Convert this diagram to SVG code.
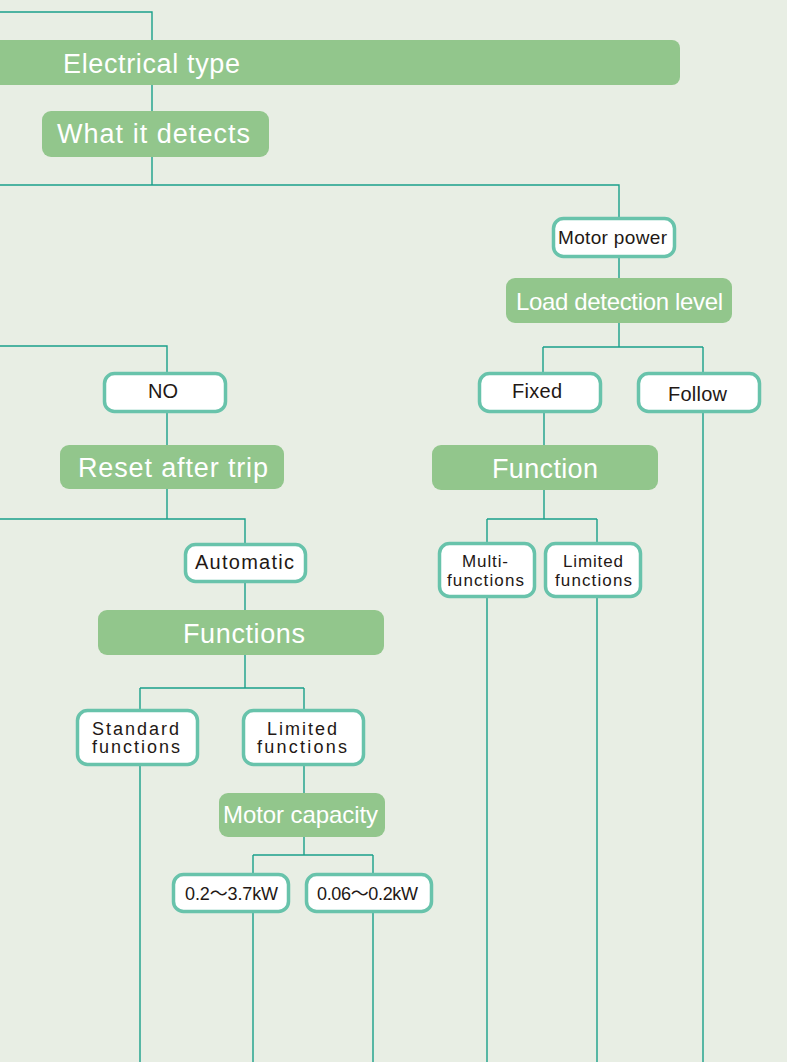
<svg xmlns="http://www.w3.org/2000/svg" width="787" height="1062" viewBox="0 0 787 1062">
<style>
.bg{fill:#e8eee4}
.g{fill:#92c68c}
.w{fill:#fff;stroke:#68c3ab;stroke-width:3.5}
.gt{fill:#fff;font-family:"Liberation Sans","Noto Sans CJK JP",sans-serif}
.dt{fill:#231815;font-family:"Liberation Sans","Noto Sans CJK JP",sans-serif}
.c{fill:none;stroke:#1aa08a;stroke-width:1.4}
</style>
<rect class="bg" x="0" y="0" width="787" height="1062"/>
<g id="connectors">
<path class="c" d="M0 12H152V185"/>
<path class="c" d="M0 185H619V218"/>
<path class="c" d="M619 257V278"/>
<path class="c" d="M619 323V347M543 347H703M543 347V372M703 347V1062"/>
<path class="c" d="M544 412V445"/>
<path class="c" d="M544 490V519M487 519H597M487 519V1062M597 519V1062"/>
<path class="c" d="M0 346H167V372"/>
<path class="c" d="M167 412V445"/>
<path class="c" d="M167 489V519M0 519H245V543"/>
<path class="c" d="M245 582V610"/>
<path class="c" d="M245 655V688M140 688H304M140 688V1062M304 688V793"/>
<path class="c" d="M304 837V855M253 855H373M253 855V1062M373 855V1062"/>
</g>
<g id="electrical-type">
<path class="g" d="M0 40H672A8 8 0 0 1 680 48V77A8 8 0 0 1 672 85H0Z"/>
<text class="gt" x="63" y="73" font-size="27" textLength="177">Electrical type</text>
</g>
<g id="what-it-detects">
<rect class="g" x="42" y="111" width="227" height="46" rx="9"/>
<text class="gt" x="57" y="143" font-size="27" textLength="193">What it detects</text>
</g>
<g id="motor-power">
<rect class="w" x="553.5" y="218.5" width="121" height="38" rx="10"/>
<text class="dt" x="558" y="244" font-size="19" textLength="109">Motor power</text>
</g>
<g id="load-detection-level">
<rect class="g" x="506" y="278" width="226" height="45" rx="9"/>
<text class="gt" x="516" y="310" font-size="24" textLength="207">Load detection level</text>
</g>
<g id="fixed">
<rect class="w" x="479.5" y="373.5" width="121" height="38" rx="10"/>
<text class="dt" x="512" y="398" font-size="20" textLength="50">Fixed</text>
</g>
<g id="follow">
<rect class="w" x="638.5" y="373.5" width="121" height="38" rx="10"/>
<text class="dt" x="668" y="401" font-size="20" textLength="59">Follow</text>
</g>
<g id="function">
<rect class="g" x="432" y="445" width="226" height="45" rx="9"/>
<text class="gt" x="492" y="478" font-size="27" textLength="106">Function</text>
</g>
<g id="multi-functions">
<rect class="w" x="439.5" y="543.5" width="95" height="53" rx="10"/>
<text class="dt" x="462" y="567" font-size="17" textLength="46">Multi-</text>
<text class="dt" x="447" y="586" font-size="17" textLength="77">functions</text>
</g>
<g id="limited-functions-1">
<rect class="w" x="545.5" y="543.5" width="95" height="53" rx="10"/>
<text class="dt" x="563" y="567" font-size="17" textLength="60">Limited</text>
<text class="dt" x="555" y="586" font-size="17" textLength="77">functions</text>
</g>
<g id="no">
<rect class="w" x="104.5" y="373.5" width="121" height="38" rx="10"/>
<text class="dt" x="148" y="398" font-size="20" textLength="30">NO</text>
</g>
<g id="reset-after-trip">
<rect class="g" x="60" y="445" width="224" height="44" rx="9"/>
<text class="gt" x="78" y="477" font-size="27" textLength="190">Reset after trip</text>
</g>
<g id="automatic">
<rect class="w" x="185.5" y="544.5" width="120" height="37" rx="10"/>
<text class="dt" x="195" y="569" font-size="20" textLength="99">Automatic</text>
</g>
<g id="functions">
<rect class="g" x="98" y="610" width="286" height="45" rx="9"/>
<text class="gt" x="183" y="643" font-size="27" textLength="122">Functions</text>
</g>
<g id="standard-functions">
<rect class="w" x="77.5" y="710.5" width="120" height="54" rx="10"/>
<text class="dt" x="92" y="735" font-size="18" textLength="87">Standard</text>
<text class="dt" x="92" y="753" font-size="18" textLength="88">functions</text>
</g>
<g id="limited-functions-2">
<rect class="w" x="243.5" y="710.5" width="120" height="54" rx="10"/>
<text class="dt" x="267" y="735" font-size="18" textLength="70">Limited</text>
<text class="dt" x="257" y="753" font-size="18" textLength="90">functions</text>
</g>
<g id="motor-capacity">
<rect class="g" x="219" y="793" width="166" height="44" rx="9"/>
<text class="gt" x="223" y="823" font-size="24" textLength="155">Motor capacity</text>
</g>
<g id="range-1">
<rect class="w" x="173.5" y="874.5" width="115" height="37" rx="10"/>
<text class="dt" x="185" y="900" font-size="18" textLength="93">0.2〜3.7kW</text>
</g>
<g id="range-2">
<rect class="w" x="306.5" y="874.5" width="125" height="37" rx="10"/>
<text class="dt" x="317" y="900" font-size="18" textLength="101">0.06〜0.2kW</text>
</g>
</svg>
